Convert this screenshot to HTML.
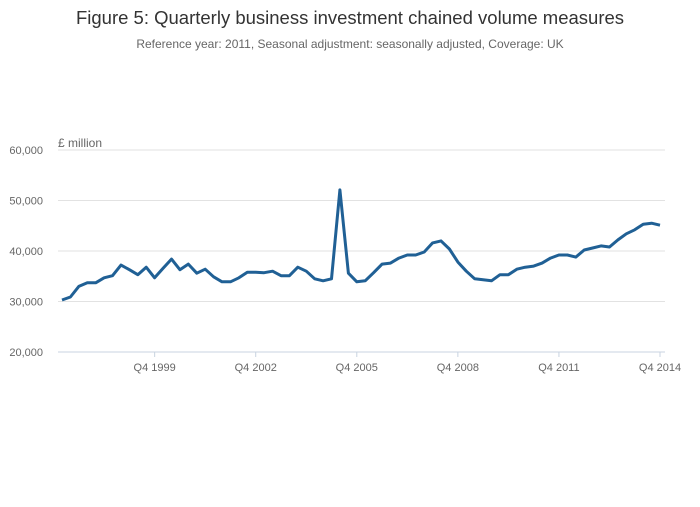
<!DOCTYPE html>
<html><head><meta charset="utf-8"><style>
body{margin:0;background:#fff;font-family:"Liberation Sans",sans-serif}
svg text{font-family:"Liberation Sans",sans-serif}
</style></head><body>
<svg width="700" height="502" id="c">
<text x="350" y="24" text-anchor="middle" font-size="18.5" fill="#333">Figure 5: Quarterly business investment chained volume measures</text>
<text x="350" y="48" text-anchor="middle" font-size="12" fill="#666">Reference year: 2011, Seasonal adjustment: seasonally adjusted, Coverage: UK</text>
<text x="58" y="147" font-size="12" fill="#666">£ million</text>
<g id="grid"></g><g id="xt"></g>
<path id="line" fill="none" stroke="#206095" stroke-width="3" stroke-linejoin="round"/>
</svg>
<script>
const values=[30300,30900,33000,33700,33700,34700,35100,37200,36300,35300,36800,34700,36600,38400,36300,37400,35600,36400,34900,33900,33900,34700,35800,35800,35700,36000,35100,35100,36800,36000,34500,34100,34500,52100,35600,33900,34100,35700,37400,37600,38600,39200,39200,39800,41600,42000,40400,37800,36000,34500,34300,34100,35300,35300,36400,36800,37000,37600,38600,39200,39200,38800,40200,40600,41000,40800,42200,43400,44200,45300,45500,45100];
const yTicks=[20000,30000,40000,50000,60000];
const xTickLabels=["Q4 1999","Q4 2002","Q4 2005","Q4 2008","Q4 2011","Q4 2014"];
const xTickIdx=[11,23,35,47,59,71];
const NS="http://www.w3.org/2000/svg";
const x=i=>62+i*(660-62)/71;
const y=v=>352-(v-20000)*(202/40000);
const g=document.getElementById('grid'),xt=document.getElementById('xt');
function mk(tag,at,p){const e=document.createElementNS(NS,tag);for(const k in at)e.setAttribute(k,at[k]);p.appendChild(e);return e;}
yTicks.forEach(t=>{
 const l=mk('line',{x1:58,x2:665,y1:y(t),y2:y(t),stroke:t===20000?'#c8d3e0':'#e2e2e2','stroke-width':1},g);
 
 
 const tx=mk('text',{x:43,y:y(t)+4,'text-anchor':'end','font-size':11,fill:'#666'},g);
 tx.textContent=t.toLocaleString('en-GB');
 
 
});
xTickIdx.forEach((i,k)=>{
 const l=mk('line',{x1:x(i),x2:x(i),y1:352,y2:357,stroke:'#c8d3e0'},xt);
 
 
 const tx=mk('text',{x:x(i),y:371,'text-anchor':'middle','font-size':11,fill:'#666'},xt);
 tx.textContent=xTickLabels[k];
 
 
});
document.getElementById('line').setAttribute('d',values.map((v,i)=>(i?'L':'M')+x(i).toFixed(1)+' '+y(v).toFixed(1)).join(''));
</script>
</body></html>
